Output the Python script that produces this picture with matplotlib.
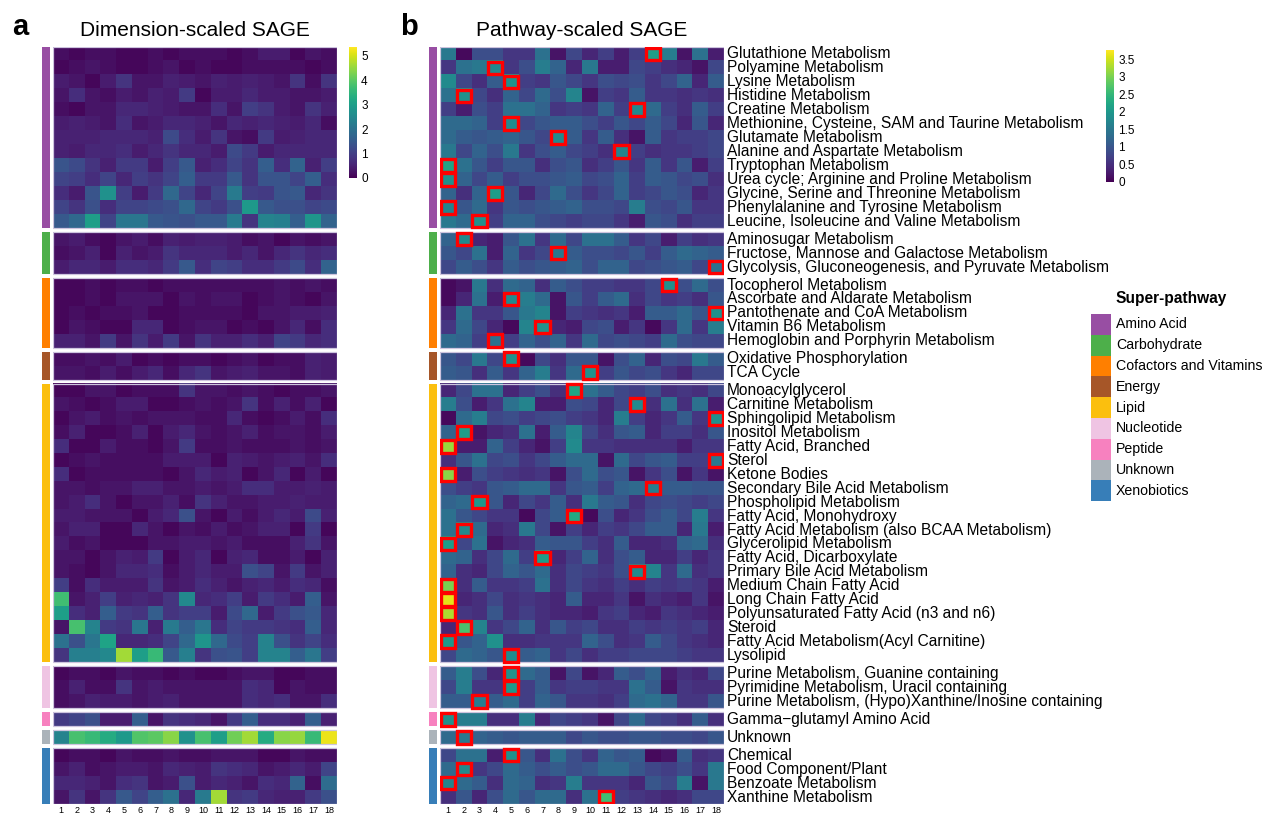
import numpy as np
import matplotlib
matplotlib.use('Agg')
import matplotlib.pyplot as plt
from matplotlib.patches import Rectangle

plt.rcParams['font.family'] = ['Liberation Sans', 'DejaVu Sans']

# super-pathway groups (top to bottom)
groups = ['Amino Acid', 'Carbohydrate', 'Cofactors and Vitamins', 'Energy', 'Lipid',
          'Nucleotide', 'Peptide', 'Unknown', 'Xenobiotics']
group_sizes = [13, 3, 5, 2, 20, 3, 1, 1, 4]
group_colors = ['#984ea3', '#4daf4a', '#ff7f00', '#a65628', '#fbbf0e',
                '#efc4e3', '#f781bf', '#abb3ba', '#377eb8']

pathways = [
    'Glutathione Metabolism', 'Polyamine Metabolism', 'Lysine Metabolism',
    'Histidine Metabolism', 'Creatine Metabolism',
    'Methionine, Cysteine, SAM and Taurine Metabolism', 'Glutamate Metabolism',
    'Alanine and Aspartate Metabolism', 'Tryptophan Metabolism',
    'Urea cycle; Arginine and Proline Metabolism',
    'Glycine, Serine and Threonine Metabolism', 'Phenylalanine and Tyrosine Metabolism',
    'Leucine, Isoleucine and Valine Metabolism',
    'Aminosugar Metabolism', 'Fructose, Mannose and Galactose Metabolism',
    'Glycolysis, Gluconeogenesis, and Pyruvate Metabolism',
    'Tocopherol Metabolism', 'Ascorbate and Aldarate Metabolism',
    'Pantothenate and CoA Metabolism', 'Vitamin B6 Metabolism',
    'Hemoglobin and Porphyrin Metabolism',
    'Oxidative Phosphorylation', 'TCA Cycle',
    'Monoacylglycerol', 'Carnitine Metabolism', 'Sphingolipid Metabolism',
    'Inositol Metabolism', 'Fatty Acid, Branched', 'Sterol', 'Ketone Bodies',
    'Secondary Bile Acid Metabolism', 'Phospholipid Metabolism',
    'Fatty Acid, Monohydroxy', 'Fatty Acid Metabolism (also BCAA Metabolism)',
    'Glycerolipid Metabolism', 'Fatty Acid, Dicarboxylate',
    'Primary Bile Acid Metabolism', 'Medium Chain Fatty Acid', 'Long Chain Fatty Acid',
    'Polyunsaturated Fatty Acid (n3 and n6)', 'Steroid',
    'Fatty Acid Metabolism(Acyl Carnitine)', 'Lysolipid',
    'Purine Metabolism, Guanine containing', 'Pyrimidine Metabolism, Uracil containing',
    'Purine Metabolism, (Hypo)Xanthine/Inosine containing',
    'Gamma\u2212glutamyl Amino Acid', 'Unknown',
    'Chemical', 'Food Component/Plant', 'Benzoate Metabolism', 'Xanthine Metabolism',
]

dims = list(range(1, 19))

# a: dimension-scaled SAGE
dim_sage = [
    # amino acid
    [0.2, 0.1, 0.2, 0.2, 0.1, 0.1, 0.2, 0.1, 0.2, 0.2, 0.2, 0.1, 0.2, 0.4, 0.4, 0.1, 0.3, 0.2],
    [0.1, 0.2, 0.3, 0.2, 0.1, 0.1, 0.2, 0.3, 0.1, 0.2, 0.1, 0.1, 0.2, 0.2, 0.2, 0.2, 0.1, 0.2],
    [0.4, 0.3, 0.1, 0.4, 0.8, 0.3, 0.3, 0.5, 0.4, 0.3, 0.5, 0.4, 0.5, 0.4, 0.3, 0.8, 0.2, 0.8],
    [0.3, 0.7, 0.3, 0.2, 0.4, 0.3, 0.5, 0.4, 0.9, 0.1, 0.4, 0.4, 0.6, 0.4, 0.4, 0.3, 0.3, 0.4],
    [0.2, 0.1, 0.3, 0.3, 0.6, 0.6, 0.5, 0.4, 0.3, 0.3, 0.7, 0.3, 1.0, 0.8, 0.4, 0.3, 0.8, 0.5],
    [0.4, 0.5, 0.4, 0.3, 0.7, 0.3, 0.4, 0.6, 0.6, 0.5, 0.3, 0.6, 0.5, 0.6, 0.5, 0.4, 0.6, 0.2],
    [0.5, 0.5, 0.5, 0.6, 0.6, 0.6, 0.5, 1.2, 0.7, 0.4, 0.8, 0.3, 0.2, 0.9, 0.4, 0.5, 0.6, 0.6],
    [0.5, 0.4, 0.6, 0.6, 0.7, 0.4, 0.6, 0.8, 0.6, 0.6, 0.4, 1.2, 0.9, 0.4, 0.6, 0.6, 0.6, 0.6],
    [1.4, 1.2, 0.8, 0.5, 0.9, 0.9, 0.4, 1.0, 1.5, 0.5, 0.7, 1.1, 0.8, 1.6, 0.7, 1.7, 0.5, 1.0],
    [1.1, 1.0, 0.7, 1.1, 0.6, 1.0, 0.8, 1.1, 1.6, 0.9, 0.9, 1.5, 0.8, 1.4, 1.4, 1.1, 1.6, 0.7],
    [0.7, 0.4, 1.4, 2.7, 1.0, 0.4, 0.9, 1.8, 1.1, 0.6, 1.1, 2.2, 1.0, 0.9, 1.4, 1.5, 0.6, 0.8],
    [1.1, 0.8, 1.3, 0.7, 1.1, 1.1, 1.2, 1.3, 1.8, 1.1, 0.9, 1.3, 2.9, 1.5, 1.3, 1.3, 1.1, 1.2],
    [1.5, 1.8, 3.0, 1.1, 2.1, 2.1, 1.5, 1.4, 1.3, 1.5, 1.5, 2.2, 0.8, 2.4, 2.3, 1.6, 2.8, 1.7],
    # carbohydrate
    [0.3, 0.4, 0.2, 0.1, 0.3, 0.4, 0.2, 0.5, 0.4, 0.5, 0.5, 0.4, 0.2, 0.3, 0.1, 0.3, 0.2, 0.3],
    [0.2, 0.3, 0.5, 0.1, 0.5, 0.3, 0.4, 0.8, 0.6, 0.6, 0.6, 0.4, 0.6, 0.3, 0.6, 0.8, 0.6, 0.7],
    [0.4, 0.6, 0.6, 0.4, 0.7, 0.7, 0.6, 0.9, 1.5, 0.7, 1.1, 1.0, 0.7, 0.7, 0.9, 1.2, 0.7, 1.7],
    # cofactors and vitamins
    [0.1, 0.1, 0.2, 0.1, 0.2, 0.2, 0.1, 0.2, 0.2, 0.2, 0.2, 0.2, 0.2, 0.2, 0.3, 0.2, 0.3, 0.2],
    [0.1, 0.1, 0.2, 0.1, 0.3, 0.3, 0.3, 0.1, 0.3, 0.2, 0.3, 0.3, 0.1, 0.2, 0.3, 0.2, 0.1, 0.3],
    [0.1, 0.2, 0.1, 0.2, 0.2, 0.3, 0.1, 0.1, 0.2, 0.2, 0.2, 0.2, 0.1, 0.3, 0.3, 0.4, 0.4, 0.5],
    [0.1, 0.3, 0.2, 0.1, 0.1, 0.6, 0.6, 0.1, 0.2, 0.3, 0.3, 0.1, 0.2, 0.1, 0.3, 0.6, 0.2, 0.7],
    [0.5, 0.5, 0.3, 0.9, 0.3, 0.8, 0.4, 0.9, 0.3, 0.8, 0.5, 0.5, 0.7, 0.5, 1.1, 0.9, 0.6, 0.7],
    # energy
    [0.2, 0.2, 0.3, 0.2, 0.4, 0.1, 0.2, 0.1, 0.2, 0.2, 0.1, 0.2, 0.3, 0.1, 0.2, 0.2, 0.5, 0.4],
    [0.3, 0.3, 0.2, 0.4, 0.2, 0.4, 0.6, 0.2, 0.6, 0.8, 0.3, 0.4, 0.5, 0.3, 0.3, 0.2, 0.5, 0.4],
    # lipid
    [0.1, 0.1, 0.3, 0.3, 0.1, 0.2, 0.2, 0.2, 0.8, 0.3, 0.3, 0.2, 0.3, 0.2, 0.1, 0.2, 0.2, 0.3],
    [0.3, 0.2, 0.1, 0.2, 0.4, 0.4, 0.1, 0.1, 0.2, 0.3, 0.2, 0.3, 0.8, 0.2, 0.5, 0.2, 0.5, 0.1],
    [0.1, 0.3, 0.4, 0.2, 0.3, 0.2, 0.3, 0.3, 0.3, 0.2, 0.2, 0.6, 0.2, 0.1, 0.2, 0.4, 0.2, 0.7],
    [0.2, 0.5, 0.1, 0.1, 0.2, 0.5, 0.1, 0.4, 0.6, 0.3, 0.2, 0.3, 0.5, 0.2, 0.3, 0.3, 0.2, 0.4],
    [0.7, 0.1, 0.1, 0.4, 0.2, 0.2, 0.1, 0.3, 0.9, 0.2, 0.2, 0.3, 0.2, 0.2, 0.2, 0.3, 0.2, 0.3],
    [0.1, 0.2, 0.3, 0.2, 0.2, 0.2, 0.2, 0.4, 0.4, 0.4, 0.1, 0.5, 0.4, 0.3, 0.4, 0.5, 0.3, 0.7],
    [0.7, 0.1, 0.2, 0.2, 0.2, 0.2, 0.2, 0.1, 0.3, 0.6, 0.4, 0.5, 0.1, 0.3, 0.6, 0.1, 0.4, 0.1],
    [0.3, 0.3, 0.2, 0.3, 0.3, 0.5, 0.5, 0.3, 0.3, 0.4, 0.3, 0.4, 0.7, 0.7, 0.4, 0.4, 0.5, 0.4],
    [0.3, 0.4, 0.7, 0.3, 0.1, 0.3, 0.3, 0.5, 0.2, 0.8, 0.5, 0.3, 0.3, 0.4, 0.4, 0.5, 0.4, 0.4],
    [0.4, 0.4, 0.3, 0.3, 0.3, 0.1, 0.4, 0.6, 1.3, 0.3, 0.1, 0.4, 0.2, 0.4, 0.6, 0.4, 1.2, 0.5],
    [0.3, 0.5, 0.5, 0.1, 0.1, 0.6, 0.3, 0.1, 0.3, 0.2, 0.4, 0.2, 0.3, 0.5, 0.5, 0.1, 0.9, 0.1],
    [0.4, 0.2, 0.3, 0.1, 0.1, 0.1, 0.3, 0.3, 0.4, 0.4, 0.3, 0.4, 0.2, 0.2, 0.2, 0.5, 0.8, 0.3],
    [0.3, 0.3, 0.1, 0.3, 0.5, 0.4, 0.9, 0.1, 0.4, 0.6, 0.1, 0.5, 0.6, 0.2, 0.2, 0.4, 0.1, 0.5],
    [0.3, 0.2, 0.1, 0.3, 0.6, 0.6, 0.7, 0.2, 0.4, 0.6, 0.4, 0.4, 1.3, 1.1, 0.3, 0.9, 0.3, 0.5],
    [1.0, 0.2, 0.7, 0.4, 0.4, 0.4, 0.8, 0.3, 0.4, 0.7, 0.5, 0.3, 0.5, 0.6, 0.4, 0.7, 0.6, 0.2],
    [3.7, 0.3, 0.5, 1.0, 0.5, 0.6, 0.5, 0.8, 2.5, 0.6, 0.7, 1.0, 0.4, 0.9, 0.7, 0.4, 1.6, 0.3],
    [3.0, 0.7, 0.5, 1.6, 0.9, 0.8, 1.6, 0.8, 1.0, 1.0, 0.4, 1.2, 1.8, 0.4, 0.9, 1.3, 1.5, 0.6],
    [0.3, 3.8, 2.4, 0.9, 0.8, 2.1, 0.5, 2.2, 1.6, 2.1, 0.7, 1.1, 0.9, 0.9, 0.8, 0.7, 1.6, 0.6],
    [2.0, 1.3, 2.1, 3.1, 0.6, 0.6, 0.7, 1.1, 1.8, 2.8, 1.8, 1.2, 1.0, 2.4, 1.3, 0.8, 1.1, 0.7],
    [0.8, 2.3, 2.3, 2.5, 4.6, 3.0, 3.6, 1.5, 2.3, 0.8, 1.3, 1.4, 1.0, 2.4, 2.4, 1.6, 2.1, 1.0],
    # nucleotide
    [0.1, 0.2, 0.2, 0.1, 0.3, 0.2, 0.2, 0.1, 0.2, 0.1, 0.1, 0.2, 0.3, 0.3, 0.1, 0.1, 0.2, 0.2],
    [0.2, 0.5, 0.2, 0.2, 0.8, 0.3, 0.4, 0.3, 0.3, 0.3, 0.3, 0.3, 0.7, 0.6, 0.1, 0.3, 0.2, 0.2],
    [0.2, 0.3, 0.5, 0.4, 0.4, 0.3, 0.4, 0.5, 0.3, 0.3, 0.3, 0.3, 0.7, 0.6, 0.7, 0.3, 0.3, 0.7],
    # peptide
    [0.9, 1.1, 1.3, 0.4, 0.4, 1.6, 0.3, 0.8, 0.7, 0.6, 0.3, 0.9, 1.6, 0.7, 0.7, 0.5, 1.6, 0.5],
    # unknown
    [2.4, 3.8, 3.6, 3.3, 2.9, 3.9, 4.0, 4.4, 2.7, 3.8, 3.0, 4.2, 4.6, 3.3, 4.4, 4.5, 3.6, 5.2],
    # xenobiotics
    [0.1, 0.2, 0.2, 0.1, 0.3, 0.2, 0.2, 0.3, 0.2, 0.2, 0.3, 0.3, 0.3, 0.1, 0.1, 0.3, 0.2, 0.2],
    [0.3, 0.5, 0.2, 0.3, 0.4, 0.4, 0.3, 0.6, 0.5, 0.4, 0.8, 0.7, 0.6, 0.3, 0.4, 0.6, 0.4, 1.1],
    [0.6, 0.6, 0.5, 0.3, 0.7, 0.8, 0.3, 0.4, 1.3, 0.4, 0.6, 0.5, 0.3, 0.7, 0.6, 1.7, 0.2, 1.9],
    [0.3, 0.8, 0.3, 0.8, 1.5, 1.1, 1.6, 2.0, 0.6, 2.2, 4.6, 0.8, 0.9, 0.6, 0.5, 0.5, 0.9, 1.3],
]

# b: pathway-scaled SAGE
path_sage = [
    # amino acid
    [1.5, 0.1, 0.9, 0.9, 0.6, 0.6, 1.4, 0.2, 0.8, 0.4, 0.7, 0.3, 0.7, 2.1, 1.6, 0.2, 1.4, 0.3],
    [0.6, 1.4, 1.5, 1.8, 0.6, 0.9, 1.6, 1.2, 0.4, 1.5, 0.3, 0.3, 0.8, 0.7, 0.5, 0.4, 0.2, 0.8],
    [1.8, 0.8, 0.5, 1.1, 1.9, 0.7, 0.6, 1.0, 0.8, 0.6, 0.9, 0.8, 0.9, 0.6, 0.8, 1.2, 0.4, 1.1],
    [1.4, 1.9, 0.8, 0.5, 1.2, 0.8, 1.3, 0.9, 1.7, 0.2, 0.7, 0.6, 1.1, 0.6, 0.6, 0.5, 0.6, 0.5],
    [0.7, 0.3, 0.9, 0.7, 1.4, 1.4, 1.2, 0.6, 0.7, 0.6, 1.2, 0.7, 1.8, 1.3, 0.7, 0.5, 1.1, 0.7],
    [1.3, 1.3, 1.2, 0.7, 1.8, 0.8, 1.0, 1.1, 1.1, 0.9, 0.7, 1.0, 0.8, 1.1, 0.8, 0.4, 1.0, 0.4],
    [1.3, 1.1, 1.0, 1.1, 1.2, 1.0, 0.8, 1.8, 1.1, 0.6, 1.1, 0.5, 0.2, 1.1, 0.6, 0.7, 0.7, 0.8],
    [1.5, 0.8, 1.2, 0.9, 1.5, 0.6, 0.9, 1.1, 0.8, 0.7, 0.5, 1.7, 0.7, 0.5, 0.6, 0.6, 0.7, 0.8],
    [2.2, 1.4, 1.0, 0.7, 1.0, 1.0, 0.5, 0.9, 1.0, 0.5, 0.7, 1.0, 0.6, 1.1, 0.6, 1.0, 0.3, 0.7],
    [1.9, 1.2, 0.8, 1.1, 0.7, 0.9, 0.9, 1.0, 1.1, 0.8, 0.9, 1.2, 0.7, 1.1, 1.0, 0.8, 0.9, 0.5],
    [1.2, 0.5, 1.2, 2.1, 1.0, 0.4, 0.8, 1.3, 0.9, 0.6, 0.8, 1.2, 0.7, 0.8, 1.0, 0.9, 0.4, 0.6],
    [1.7, 1.0, 1.3, 0.6, 1.0, 0.9, 1.0, 1.1, 1.2, 0.9, 0.9, 0.8, 1.6, 0.9, 0.8, 1.0, 0.6, 0.6],
    [1.5, 1.3, 1.9, 0.7, 1.2, 1.2, 0.9, 0.8, 0.7, 0.8, 0.8, 0.6, 0.3, 1.0, 0.9, 0.5, 0.7, 0.7],
    # carbohydrate
    [1.2, 1.8, 0.4, 0.3, 1.0, 1.4, 0.6, 1.3, 0.8, 1.4, 1.4, 1.1, 0.6, 0.8, 0.3, 0.7, 0.5, 0.6],
    [1.0, 0.8, 1.4, 0.3, 1.2, 0.6, 0.8, 1.5, 1.1, 0.9, 0.9, 0.8, 1.0, 0.7, 1.1, 1.3, 1.2, 1.1],
    [0.8, 1.1, 0.9, 0.6, 1.1, 0.9, 1.0, 1.1, 1.2, 0.9, 1.2, 1.2, 0.8, 0.9, 1.0, 1.1, 0.8, 1.4],
    # cofactors and vitamins
    [0.1, 0.2, 1.5, 0.5, 1.3, 1.2, 0.5, 1.1, 0.9, 0.7, 0.7, 0.6, 0.6, 0.8, 1.9, 0.9, 1.3, 0.9],
    [0.1, 0.4, 1.4, 0.3, 1.8, 1.6, 1.3, 0.2, 1.0, 0.7, 1.1, 1.3, 0.5, 0.8, 0.6, 0.7, 0.5, 1.0],
    [0.4, 1.4, 0.6, 0.6, 1.0, 1.5, 1.7, 0.2, 0.7, 0.6, 0.5, 0.6, 0.3, 1.1, 1.1, 1.3, 1.0, 1.9],
    [0.6, 1.3, 0.8, 0.4, 0.1, 1.7, 1.9, 0.4, 0.3, 0.8, 0.9, 0.3, 0.6, 0.1, 0.6, 1.3, 0.6, 1.6],
    [1.3, 1.2, 0.7, 1.4, 0.7, 1.2, 0.9, 1.2, 0.6, 1.3, 0.8, 0.9, 0.8, 0.7, 1.3, 0.9, 0.8, 0.8],
    # energy
    [1.0, 0.8, 1.5, 0.8, 1.9, 0.1, 0.8, 0.5, 1.0, 1.0, 0.2, 0.9, 1.2, 0.4, 0.9, 0.8, 1.5, 1.1],
    [1.1, 1.0, 0.5, 1.1, 0.6, 1.2, 1.6, 0.6, 1.3, 1.9, 0.7, 1.0, 0.8, 0.9, 0.6, 0.4, 0.8, 0.8],
    # lipid
    [0.4, 0.8, 1.4, 1.4, 0.4, 0.7, 0.9, 0.5, 2.2, 1.4, 1.1, 0.8, 0.7, 0.9, 0.5, 0.6, 0.5, 0.8],
    [1.6, 0.9, 0.3, 0.6, 1.4, 1.7, 0.3, 0.3, 0.9, 0.8, 0.4, 0.8, 1.8, 0.5, 1.4, 0.5, 1.4, 0.3],
    [0.1, 1.3, 1.6, 0.8, 0.9, 0.7, 0.8, 0.9, 0.7, 0.6, 0.4, 1.6, 0.7, 0.4, 0.6, 1.1, 0.6, 1.9],
    [1.2, 2.1, 0.2, 0.4, 0.5, 1.4, 0.3, 1.1, 1.7, 0.8, 0.5, 1.0, 1.1, 0.4, 0.7, 0.7, 0.5, 1.0],
    [3.2, 0.3, 0.3, 1.2, 0.7, 0.4, 0.2, 0.7, 1.8, 0.6, 0.6, 0.5, 0.5, 0.5, 0.5, 0.3, 0.6, 0.6],
    [0.5, 1.0, 1.4, 0.8, 0.9, 0.6, 0.8, 1.1, 1.3, 1.3, 0.2, 1.3, 0.8, 1.0, 1.1, 0.7, 0.7, 1.5],
    [3.1, 0.3, 0.9, 0.7, 0.6, 0.5, 0.6, 0.2, 0.9, 1.3, 0.9, 1.0, 0.2, 0.6, 0.9, 0.2, 0.6, 0.2],
    [0.9, 0.7, 0.6, 1.0, 1.1, 1.3, 1.3, 0.6, 1.0, 1.1, 0.7, 1.2, 1.3, 1.6, 1.1, 1.1, 1.0, 1.0],
    [1.2, 1.3, 2.0, 1.0, 0.4, 0.8, 0.6, 1.1, 0.5, 1.5, 1.1, 1.0, 0.5, 0.8, 0.9, 0.8, 0.7, 0.8],
    [1.4, 1.0, 0.8, 0.6, 0.6, 0.1, 0.8, 1.1, 2.3, 0.1, 0.9, 0.4, 0.6, 0.9, 1.1, 0.8, 1.6, 0.6],
    [1.4, 1.8, 1.3, 0.4, 0.5, 1.5, 0.8, 0.2, 0.7, 0.4, 0.7, 0.6, 0.8, 1.1, 1.1, 0.4, 1.5, 0.3],
    [2.1, 0.8, 1.4, 0.2, 0.4, 0.5, 1.1, 1.0, 1.0, 0.7, 0.5, 1.1, 0.4, 0.4, 0.5, 1.2, 1.3, 0.5],
    [1.3, 1.2, 0.5, 0.8, 1.3, 0.7, 2.1, 0.4, 0.7, 1.2, 0.5, 0.9, 1.1, 0.4, 0.4, 0.7, 0.4, 0.6],
    [1.2, 0.5, 0.4, 0.8, 1.2, 1.0, 1.3, 0.5, 0.8, 0.7, 0.6, 0.9, 1.8, 1.7, 0.6, 1.3, 0.5, 0.6],
    [3.0, 0.5, 1.1, 0.6, 0.6, 0.7, 1.4, 0.5, 0.8, 0.6, 0.5, 0.7, 0.5, 0.7, 0.6, 0.7, 0.6, 0.3],
    [3.6, 0.4, 0.5, 0.8, 0.5, 0.6, 0.5, 0.4, 1.1, 0.4, 0.4, 0.6, 0.2, 0.5, 0.4, 0.3, 0.6, 0.2],
    [3.3, 0.6, 0.5, 1.0, 0.5, 0.7, 0.5, 0.4, 0.4, 0.3, 0.6, 0.7, 0.4, 0.3, 0.6, 0.5, 0.4, 0.3],
    [0.4, 2.7, 1.7, 0.6, 0.8, 1.2, 0.5, 1.0, 0.7, 0.8, 0.5, 0.5, 0.7, 0.6, 0.7, 0.6, 0.7, 0.4],
    [2.0, 1.0, 1.2, 1.9, 0.5, 0.5, 0.6, 0.6, 0.6, 1.2, 0.9, 0.5, 0.6, 1.1, 0.8, 0.6, 0.5, 0.4],
    [0.8, 1.3, 1.2, 1.0, 1.8, 1.1, 1.2, 0.6, 0.8, 0.5, 0.7, 0.7, 0.8, 0.8, 0.8, 0.7, 0.6, 0.6],
    # nucleotide
    [1.1, 1.6, 0.9, 0.4, 1.9, 1.3, 1.1, 0.2, 0.8, 0.2, 0.4, 1.1, 0.9, 1.2, 0.3, 0.5, 0.4, 0.8],
    [0.8, 1.6, 0.6, 0.6, 2.0, 0.7, 1.1, 0.6, 0.7, 0.7, 0.6, 0.6, 1.4, 1.1, 0.2, 0.6, 0.5, 0.5],
    [1.1, 1.1, 1.6, 1.1, 1.3, 0.7, 1.2, 1.0, 0.6, 0.6, 0.5, 0.7, 1.3, 1.4, 1.2, 0.6, 0.6, 1.0],
    # peptide
    [1.9, 1.6, 1.6, 0.5, 0.5, 1.6, 0.4, 0.8, 0.7, 0.6, 0.2, 0.8, 1.3, 0.8, 0.7, 0.5, 1.1, 0.5],
    # unknown
    [1.3, 1.5, 1.2, 1.1, 1.0, 1.1, 1.1, 1.1, 0.8, 1.0, 0.9, 0.9, 1.0, 1.0, 0.9, 0.9, 0.8, 1.0],
    # xenobiotics
    [0.8, 1.4, 1.4, 0.3, 1.9, 1.0, 0.5, 1.4, 0.9, 0.6, 1.2, 1.0, 1.1, 0.1, 0.2, 1.1, 0.5, 0.6],
    [1.3, 1.8, 0.6, 0.8, 1.3, 1.1, 0.9, 1.1, 0.9, 1.0, 1.3, 1.3, 1.0, 0.8, 0.7, 0.9, 0.6, 1.5],
    [1.7, 1.3, 1.1, 0.5, 1.3, 1.2, 0.5, 0.6, 1.6, 0.6, 0.6, 0.6, 0.4, 1.0, 0.8, 1.6, 0.2, 1.5],
    [0.5, 1.0, 0.4, 0.9, 1.3, 1.0, 1.3, 1.3, 0.5, 1.4, 2.6, 0.7, 0.6, 0.5, 0.4, 0.5, 0.8, 0.8],
]

W, H = 1266, 818
fig = plt.figure(figsize=(W / 100, H / 100), dpi=100)


def px(x0, y0, x1, y1):
    return [x0 / W, 1 - y1 / H, (x1 - x0) / W, (y1 - y0) / H]


gap = 0.29
starts = np.cumsum([0] + group_sizes[:-1])
offsets = [s + i * gap for i, s in enumerate(starts)]
total = sum(group_sizes) + (len(group_sizes) - 1) * gap


def draw_panel(ax, mat, vmax, mark_max=False):
    mat = np.array(mat)
    ncol = mat.shape[1]
    for g, (s, n, off) in enumerate(zip(starts, group_sizes, offsets)):
        block = mat[s:s + n]
        im = ax.imshow(block, extent=(0, ncol, off + n, off), aspect='auto',
                       cmap='viridis', vmin=0, vmax=vmax, interpolation='nearest')
        ax.add_patch(Rectangle((0, off), ncol, n, fill=False, ec='#cdc4de', lw=0.9))
        ax.add_patch(Rectangle((-0.72, off), 0.5, n, fc=group_colors[g], ec='none',
                               clip_on=False))
        if mark_max:
            for r in range(n):
                c = int(np.argmax(block[r]))
                ax.add_patch(Rectangle((c + 0.05, off + r + 0.05), 0.9, 0.9,
                                       fill=False, ec='#ff0000', lw=2.4, zorder=5))
    ax.set_xlim(0, ncol)
    ax.set_ylim(total, 0)
    ax.set_xticks(np.arange(ncol) + 0.5)
    ax.set_xticklabels([str(d) for d in dims])
    ax.tick_params(axis='x', length=0, labelsize=6.5, pad=1.5)
    ax.set_yticks([])
    for sp in ax.spines.values():
        sp.set_visible(False)
    return im


ax_a = fig.add_axes(px(53, 47, 337, 804))
im_a = draw_panel(ax_a, dim_sage, 5.35)

ax_b = fig.add_axes(px(440, 47, 724, 804))
im_b = draw_panel(ax_b, path_sage, 3.76, mark_max=True)

# pathway labels on the right of panel b
for g, (s, n, off) in enumerate(zip(starts, group_sizes, offsets)):
    for r in range(n):
        ax_b.text(18.2, off + r + 0.5, pathways[s + r], va='center', ha='left',
                  fontsize=11.2, clip_on=False)

# colorbars
cax_a = fig.add_axes(px(349, 47, 357, 178))
cb_a = fig.colorbar(im_a, cax=cax_a, ticks=[0, 1, 2, 3, 4, 5])
cax_b = fig.add_axes(px(1106, 50, 1114, 182))
cb_b = fig.colorbar(im_b, cax=cax_b, ticks=[0, 0.5, 1, 1.5, 2, 2.5, 3, 3.5])
cb_b.ax.set_yticklabels(['0', '0.5', '1', '1.5', '2', '2.5', '3', '3.5'])
for cb in (cb_a, cb_b):
    cb.outline.set_visible(False)
    cb.ax.tick_params(length=0, labelsize=8.5, pad=3)

# titles and panel letters
fig.text(80 / W, 1 - 30 / H, 'Dimension-scaled SAGE', fontsize=15, va='center', ha='left')
fig.text(476 / W, 1 - 30 / H, 'Pathway-scaled SAGE', fontsize=15, va='center', ha='left')
fig.text(12 / W, 1 - 27 / H, 'a', fontsize=21, fontweight='bold', va='center', ha='left')
fig.text(400 / W, 1 - 27 / H, 'b', fontsize=21, fontweight='bold', va='center', ha='left')

# super-pathway legend
fig.text(1115 / W, 1 - 298 / H, 'Super-pathway', fontsize=11.2, fontweight='bold',
         va='center', ha='left')
box_h = 20.8
for i, (name, col) in enumerate(zip(groups, group_colors)):
    y0 = 314 + i * box_h
    fig.patches.append(Rectangle((1091 / W, 1 - (y0 + box_h) / H), 20 / W, box_h / H,
                                 transform=fig.transFigure, fc=col, ec='none'))
    fig.text(1116 / W, 1 - (y0 + box_h / 2) / H, name, fontsize=10.2, va='center', ha='left')

fig.savefig('out.png', dpi=100)
